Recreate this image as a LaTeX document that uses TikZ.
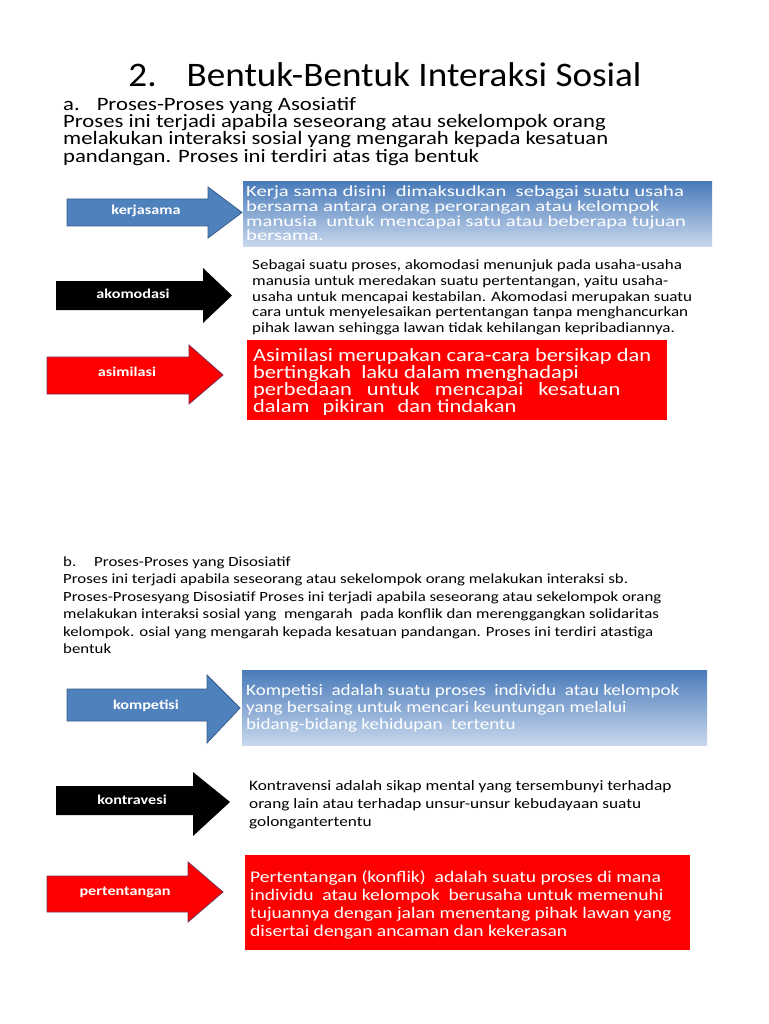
\documentclass[tikz,border=0pt]{standalone}
\usepackage{fontspec}
\setmainfont[FakeStretch=1.2]{Carlito}
\newfontfamily\titlefont[FakeStretch=1.08]{Carlito}
\newfontfamily\widefont[FakeStretch=1.34]{Carlito}
\newcommand\tightlines{\lineskiplimit=-50pt\relax}

\definecolor{arrblue}{RGB}{79,129,189}
\definecolor{arrblueline}{RGB}{56,93,138}
\definecolor{boxblue}{RGB}{74,124,186}
\definecolor{boxbluelight}{RGB}{200,215,237}
\definecolor{arrredline}{RGB}{125,45,80}

\tikzset{
  bluearrow/.style={fill=arrblue, draw=arrblueline, line width=0.8pt},
  redarrow/.style={fill=red, draw=arrredline, line width=0.8pt},
  blackarrow/.style={fill=black},
  arrowlabel/.style={text=white, inner sep=0pt, font=\fontsize{13.5}{14}\selectfont\bfseries},
  bluebox/.style={top color=boxblue, bottom color=boxbluelight},
  redbox/.style={fill=red},
  para/.style={anchor=north west, inner sep=0pt, align=left},
}

\begin{document}
\begin{tikzpicture}[x=1pt, y=-1pt]
    \useasboundingbox (0,0) rectangle (768,1024);
    \fill[white] (0,0) rectangle (768,1024);

    % title and part a
    \node[font=\titlefont\fontsize{34.4}{36}\selectfont] (title) at (385,75) {2.\hspace{30pt}Bentuk-Bentuk Interaksi Sosial};
    \node[para, font=\fontsize{18.9}{17.3}\selectfont\tightlines] (asosiatif) at (63,97) {%
        a.\hspace{17pt}Proses-Proses yang Asosiatif\\
        Proses ini terjadi apabila seseorang atau sekelompok orang\\
        melakukan interaksi sosial yang mengarah kepada kesatuan\\
        pandangan. Proses ini terdiri atas tiga bentuk};

    % boxes
    \path[bluebox] (243,182) rectangle (712,246);
    \path[redbox] (247,340) rectangle (667,420);
    \path[bluebox] (242,670) rectangle (707,745);
    \path[redbox] (245,855) rectangle (690,950);

    % arrows
    \draw[bluearrow] (67,199) -- (208,199) -- (208,187) -- (242,212.5) -- (208,238) -- (208,226) -- (67,226) -- cycle;
    \fill[blackarrow] (56,281) -- (203,281) -- (203,268) -- (232,295.5) -- (203,323) -- (203,310) -- (56,310) -- cycle;
    \draw[redarrow] (47,357) -- (189,357) -- (189,345) -- (223,375) -- (189,404) -- (189,394) -- (47,394) -- cycle;
    \draw[bluearrow] (67,689) -- (207,689) -- (207,675) -- (240,708) -- (207,743) -- (207,721) -- (67,721) -- cycle;
    \fill[blackarrow] (56,786) -- (193,786) -- (193,772) -- (230,802) -- (193,836) -- (193,815) -- (56,815) -- cycle;
    \draw[redarrow] (47,876) -- (188,876) -- (188,862) -- (223,892) -- (188,922) -- (188,912) -- (47,912) -- cycle;

    \node[arrowlabel] (kerjasama) at (146,211) {kerjasama};
    \node[arrowlabel] (akomodasi) at (133,294) {akomodasi};
    \node[arrowlabel] (asimilasi) at (127,372) {asimilasi};
    \node[arrowlabel] (kompetisi) at (146,706) {kompetisi};
    \node[arrowlabel] (kontravesi) at (132,800) {kontravesi};
    \node[arrowlabel] (pertentangan) at (125,892) {pertentangan};

    % texts of part a
    \node[para, text=white, font=\widefont\fontsize{15.4}{14.6}\selectfont\tightlines] (kerjasamatext) at (246,186) {%
        Kerja sama disini \ dimaksudkan \ sebagai suatu usaha\\
        bersama antara orang perorangan atau kelompok\\
        manusia \ untuk mencapai satu atau beberapa tujuan\\
        bersama.};
    \node[para, font=\fontsize{14.2}{15.8}\selectfont] (akomodasitext) at (252,259.5) {%
        Sebagai suatu proses, akomodasi menunjuk pada usaha-usaha\\
        manusia untuk meredakan suatu pertentangan, yaitu usaha-\\
        usaha untuk mencapai kestabilan. Akomodasi merupakan suatu\\
        cara untuk menyelesaikan pertentangan tanpa menghancurkan\\
        pihak lawan sehingga lawan tidak kehilangan kepribadiannya.};
    \node[para, text=white, font=\fontsize{18.7}{17}\selectfont\tightlines] (asimilasitext) at (253,348) {%
        Asimilasi merupakan cara-cara bersikap dan\\
        bertingkah \ laku dalam menghadapi\\
        perbedaan\hspace{15pt}untuk\hspace{15pt}mencapai\hspace{15pt}kesatuan\\
        dalam\hspace{13pt}pikiran\hspace{13pt}dan tindakan};

    % part b
    \node[para, font=\fontsize{14}{17.5}\selectfont] (disosiatif) at (63,556.5) {%
        b.\hspace{18pt}Proses-Proses yang Disosiatif\\
        Proses ini terjadi apabila seseorang atau sekelompok orang melakukan interaksi sb.\\
        Proses-Prosesyang Disosiatif Proses ini terjadi apabila seseorang atau sekelompok orang\\
        melakukan interaksi sosial yang \ mengarah \ pada konflik dan merenggangkan solidaritas\\
        kelompok. osial yang mengarah kepada kesatuan pandangan. Proses ini terdiri atastiga\\
        bentuk};

    \node[para, text=white, font=\fontsize{15.9}{17}\selectfont\tightlines] (kompetisitext) at (246,684) {%
        Kompetisi \ adalah suatu proses \ individu \ atau kelompok\\
        yang bersaing untuk mencari keuntungan melalui\\
        bidang-bidang kehidupan \ tertentu};
    \node[para, font=\fontsize{14.4}{18}\selectfont] (kontravesitext) at (249,780) {%
        Kontravensi adalah sikap mental yang tersembunyi terhadap\\
        orang lain atau terhadap unsur-unsur kebudayaan suatu\\
        golongantertentu};
    \node[para, text=white, font=\fontsize{16.3}{17.8}\selectfont\tightlines] (pertentangantext) at (250,870.5) {%
        Pertentangan (konflik) \ adalah suatu proses di mana\\
        individu \ atau kelompok \ berusaha untuk memenuhi\\
        tujuannya dengan jalan menentang pihak lawan yang\\
        disertai dengan ancaman dan kekerasan};
\end{tikzpicture}
\end{document}
